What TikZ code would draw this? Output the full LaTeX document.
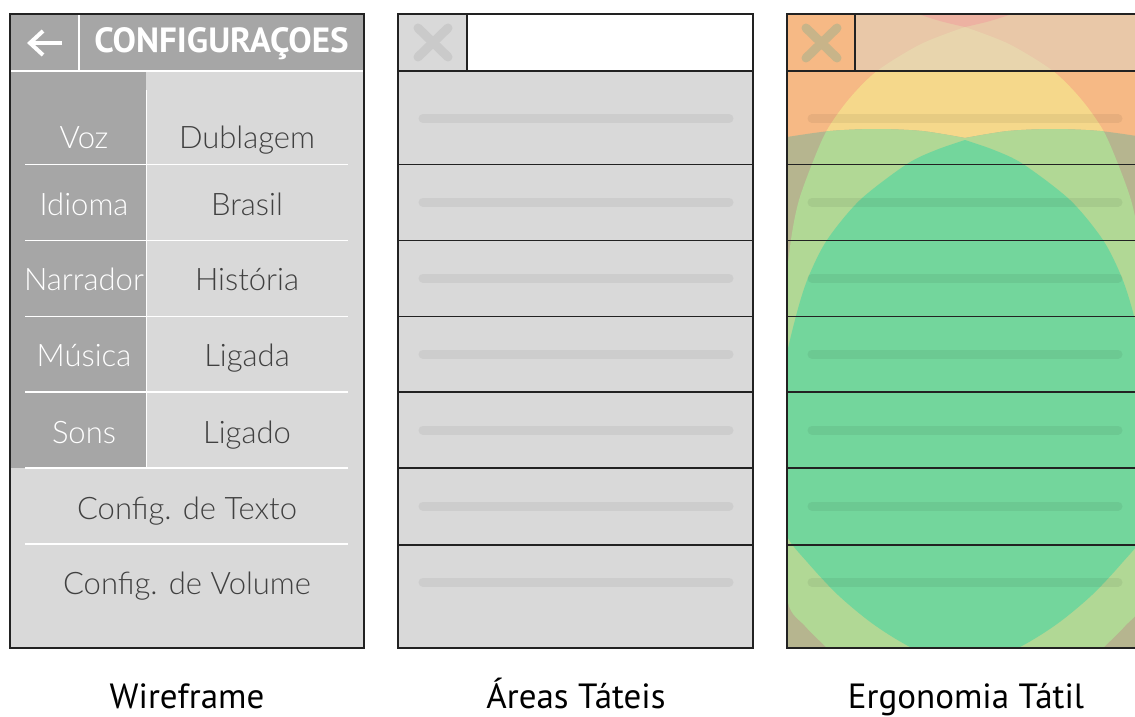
\documentclass[tikz,border=0pt]{standalone}
\usepackage{fontspec}
\newfontfamily\rowfam{Lato Light}
\newfontfamily\lblfam{PT Sans}
\newfontfamily\titlefam{PT Sans}
\definecolor{hdrgray}{HTML}{A6A6A6}
\definecolor{lightg}{HTML}{D9D9D9}
\definecolor{txtg}{HTML}{404040}
\definecolor{framec}{HTML}{222222}
\definecolor{barg}{HTML}{CDCDCD}
\definecolor{xg}{HTML}{CACACA}
\definecolor{hmorange}{HTML}{F6B985}
\definecolor{hmbeige}{HTML}{E9C8A8}
\definecolor{hmpink}{HTML}{EDB2A2}
\definecolor{hmlens}{HTML}{E8D5AD}
\definecolor{hmyellow}{HTML}{F5D88B}
\definecolor{hmolive}{HTML}{B6B58F}
\definecolor{hmlight}{HTML}{B1D895}
\definecolor{hmgreen}{HTML}{73D69C}
\definecolor{hmx}{HTML}{C8B489}
\newcommand\hmYpath{(965,27) -- plot[smooth] coordinates {(965,27) (921,44) (877,71) (849,99) (827,130) (812,164) (799,200) (792,233) (786,280) (779,350) (776,440) (780,530) (788,603) (805,626) (827,648) (860,680) (900,705)} -- plot[smooth] coordinates {(1030,705) (1070,680) (1103,648) (1125,626) (1142,603) (1150,530) (1154,440) (1151,350) (1144,280) (1138,233) (1131,200) (1118,164) (1103,130) (1081,99) (1053,71) (1009,44) (965,27)} -- cycle}
\newcommand\hmGpath{(760,140) -- plot[smooth] coordinates {(787,137) (830,131) (876,129) (922,131) (965,138)} -- plot[smooth] coordinates {(965,138) (1008,131) (1054,129) (1100,131) (1143,137)} -- (1170,140) -- (1170,700) -- (760,700) -- cycle}
\newcommand\hmBpath{(965,140) -- plot[smooth] coordinates {(965,140) (936,150) (907,164) (860,200) (827,240) (808,278) (796,316) (784,370) (779,440) (781,500) (787,536) (808,563) (838,595) (873,624) (912,648) (965,670)} -- plot[smooth] coordinates {(965,670) (1018,648) (1057,624) (1092,595) (1122,563) (1143,536) (1149,500) (1151,440) (1146,370) (1134,316) (1122,278) (1103,240) (1070,200) (1023,164) (994,150) (965,140)} -- cycle}
\tikzset{
  wtxt/.style={text=white, font=\rowfam\fontsize{31}{36}\selectfont, inner sep=0pt, anchor=base},
  dtxt/.style={text=txtg, font=\rowfam\fontsize{31}{36}\selectfont, inner sep=0pt, anchor=base},
  sepline/.style={draw=white, line width=1.2pt},
  frame/.style={draw=framec, line width=2pt},
  rowline/.style={draw=framec, line width=1.5pt},
  bar/.style={line width=9pt, line cap=round},
  xmark/.style={line width=9pt, line cap=round},
  lbl/.style={font=\lblfam\fontsize{35}{40}\selectfont, text=black, inner sep=0pt, anchor=base},
}
\begin{document}
\begin{tikzpicture}[x=1pt,y=-1pt]
\useasboundingbox (0,0) rectangle (1135,717);
\fill[white] (0,0) rectangle (1135,717);

% ---------- Panel 1: Wireframe ----------
\fill[lightg] (10,14) rectangle (364,648);
\fill[hdrgray] (10,14) rectangle (364,71);
\fill[hdrgray] (10,71) rectangle (146,468);
\draw[white, line width=1.2pt] (10,71) -- (364,71);
\draw[white, line width=1.2pt] (79,14) -- (79,71);
\draw[white, line width=1pt] (146,90) -- (146,468);
\foreach \yy in {164.5,240.5,316.5,392,468,544} \draw[sepline] (25,\yy) -- (348,\yy);
\draw[white, line width=4pt] (62,43) -- (31,43);
\draw[white, line width=4pt, line join=miter] (43,31) -- (30,43) -- (43,55);
\node[anchor=base, text=white, inner sep=0pt, font=\titlefam\bfseries\fontsize{35}{40}\selectfont] (title) at (221.5,53) {CONFIGURAÇOES};
\node[wtxt] (voz) at (84,148) {Voz};
\node[dtxt] (dub) at (247,148) {Dublagem};
\node[wtxt] (idi) at (84,215) {Idioma};
\node[dtxt] (bra) at (247,215) {Brasil};
\node[wtxt] (nar) at (84,290) {Narrador};
\node[dtxt] (his) at (247,290) {História};
\node[wtxt] (mus) at (84,366) {Música};
\node[dtxt] (lga) at (247,366) {Ligada};
\node[wtxt] (son) at (84,443) {Sons};
\node[dtxt] (lgo) at (247,443) {Ligado};
\node[dtxt] (ctx) at (187,519) {Config. de Texto};
\node[dtxt] (cvo) at (187,594) {Config. de Volume};
\draw[frame] (10,14) rectangle (364,648);

% ---------- Panel 2: Areas Tateis ----------
\fill[lightg] (398,14) rectangle (753,648);
\fill[white] (467,14) rectangle (753,71);
\draw[xmark, xg] (418,28) -- (448,57);
\draw[xmark, xg] (418,57) -- (448,28);
\foreach \yy in {118.5,202,278,354,430,506,582} \draw[bar, barg] (423,\yy) -- (729,\yy);
\foreach \yy in {71,164.5,240.5,316.5,392,468,545} \draw[rowline] (398,\yy) -- (753,\yy);
\draw[rowline] (467,14) -- (467,71);
\draw[frame] (398,14) rectangle (753,648);

% ---------- Panel 3: Ergonomia Tatil ----------
\begin{scope}
\clip (787,14) rectangle (1142,648);
\fill[hmorange] (787,14) rectangle (1142,648);
\begin{scope}
\clip (787,71) rectangle (1142,648);
\fill[hmyellow] \hmYpath;
\fill[hmolive] \hmGpath;
\begin{scope}
\clip \hmGpath;
\fill[hmlight] \hmYpath;
\end{scope}
\fill[hmgreen] \hmBpath;
\end{scope}
\begin{scope}
\clip (855,14) rectangle (1142,71);
\fill[hmbeige] (855,14) rectangle (1142,71);
\fill[hmlens] \hmYpath;
\fill[hmpink] (905,8) -- plot[smooth] coordinates {(912,12) (940,21) (965,27)} -- plot[smooth] coordinates {(965,27) (990,21) (1018,12)} -- (1025,8) -- cycle;
\end{scope}
\draw[xmark, hmx] (806,28) -- (837,58);
\draw[xmark, hmx] (806,58) -- (837,28);
\foreach \yy in {118.5,202,278,354,430,506,582} \draw[bar, black, opacity=0.06] (812,\yy) -- (1118,\yy);
\end{scope}
\foreach \yy in {71,164.5,240.5,316.5,392,468,545} \draw[rowline] (787,\yy) -- (1142,\yy);
\draw[rowline] (855,14) -- (855,71);
\draw[frame] (787,14) rectangle (1142,648);

% ---------- Labels ----------
\node[lbl] (l1) at (187,708) {Wireframe};
\node[lbl] (l2) at (576,708) {Áreas Táteis};
\node[lbl] (l3) at (966,708) {Ergonomia Tátil};
\end{tikzpicture}
\end{document}
